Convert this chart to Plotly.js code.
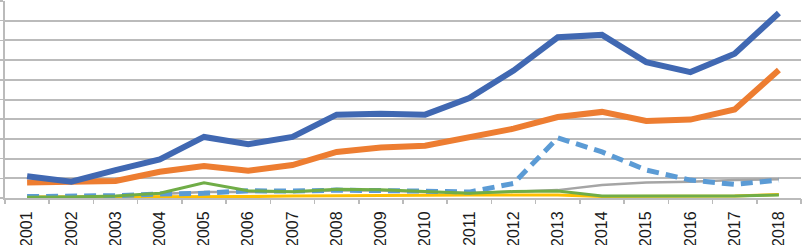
<!DOCTYPE html>
<html>
<head>
<meta charset="utf-8">
<script src="https://cdn.plot.ly/plotly-3.0.1.min.js"></script>
<style>
html,body{margin:0;padding:0;background:#fff;}
#chart{width:803px;height:245px;}
</style>
</head>
<body>
<div id="chart"></div>
<script>
const years = ['2001','2002','2003','2004','2005','2006','2007','2008','2009','2010','2011','2012','2013','2014','2015','2016','2017','2018'];
const seriesBlue   = [1.10,0.83,1.42,1.96,3.10,2.73,3.10,4.23,4.28,4.23,5.07,6.47,8.16,8.28,6.90,6.39,7.32,9.39];
const seriesOrange = [0.79,0.82,0.86,1.33,1.62,1.38,1.67,2.34,2.56,2.65,3.10,3.52,4.11,4.37,3.91,3.98,4.49,6.50];
const seriesDashed = [0.07,0.07,0.12,0.20,0.24,0.37,0.35,0.40,0.40,0.35,0.30,0.74,3.05,2.34,1.42,0.91,0.69,0.91];
const seriesGray   = [0.05,0.05,0.08,0.20,0.30,0.30,0.32,0.38,0.38,0.30,0.26,0.32,0.40,0.66,0.79,0.83,0.91,0.95];
const seriesYellow = [0.05,0.05,0.06,0.07,0.07,0.07,0.10,0.12,0.12,0.14,0.15,0.15,0.15,0.08,0.08,0.08,0.10,0.18];
const seriesGreen  = [0.04,0.05,0.10,0.24,0.77,0.37,0.32,0.44,0.42,0.32,0.24,0.33,0.35,0.10,0.10,0.10,0.10,0.15];

const xIdx = years.map((_, i) => i);

function tr(x, y, color, width, dash, xaxis) {
  return {x: x, y: y, type: 'scatter', mode: 'lines', xaxis: xaxis || 'x',
          line: {color: color, width: width, dash: dash || 'solid', shape: 'linear'},
          hoverinfo: 'skip', showlegend: false};
}

const data = [
  tr(years, seriesGray, '#A5A5A5', 2.5),
  tr(years, seriesYellow, '#FFC000', 3),
  tr(years, seriesDashed, '#5B9BD5', 5, '12px,7px'),
  tr(years, seriesGreen, '#70AD47', 3),
  tr(years, seriesOrange, '#ED7D31', 6),
  tr(xIdx, seriesBlue, '#4068B2', 6, 'solid', 'x2')
];

const layout = {
  width: 803, height: 245,
  margin: {l: 5, r: 2, t: 1, b: 47, pad: 0},
  paper_bgcolor: '#ffffff', plot_bgcolor: '#ffffff',
  showlegend: false,
  xaxis: {
    type: 'category',
    range: [-0.5, 17.5],
    ticks: 'outside', ticklen: 5, tickwidth: 1.5, tickcolor: 'rgba(0,0,0,0)',
    showgrid: false, zeroline: false,
    showline: true, linecolor: '#BBBBBB', linewidth: 2,
    tickangle: -90,
    tickfont: {family: 'Liberation Sans, Arial, sans-serif', size: 16, color: '#1a1a1a'}
  },
  xaxis2: {
    type: 'linear', overlaying: 'x', anchor: 'y', side: 'bottom',
    range: [-0.5, 17.5],
    tickmode: 'linear', tick0: -0.5, dtick: 1,
    ticks: 'outside', ticklen: 5, tickwidth: 1.5, tickcolor: '#BBBBBB',
    showticklabels: false, showgrid: false, zeroline: false, showline: false
  },
  yaxis: {
    range: [0, 10], dtick: 1, tick0: 0,
    showticklabels: false,
    ticks: 'outside', ticklen: 5, tickwidth: 1.5, tickcolor: '#BBBBBB',
    showgrid: true, gridcolor: '#BBBBBB', gridwidth: 2,
    zeroline: false,
    showline: true, linecolor: '#BBBBBB', linewidth: 2
  }
};

Plotly.newPlot('chart', data, layout, {staticPlot: true, displayModeBar: false});
</script>
</body>
</html>
